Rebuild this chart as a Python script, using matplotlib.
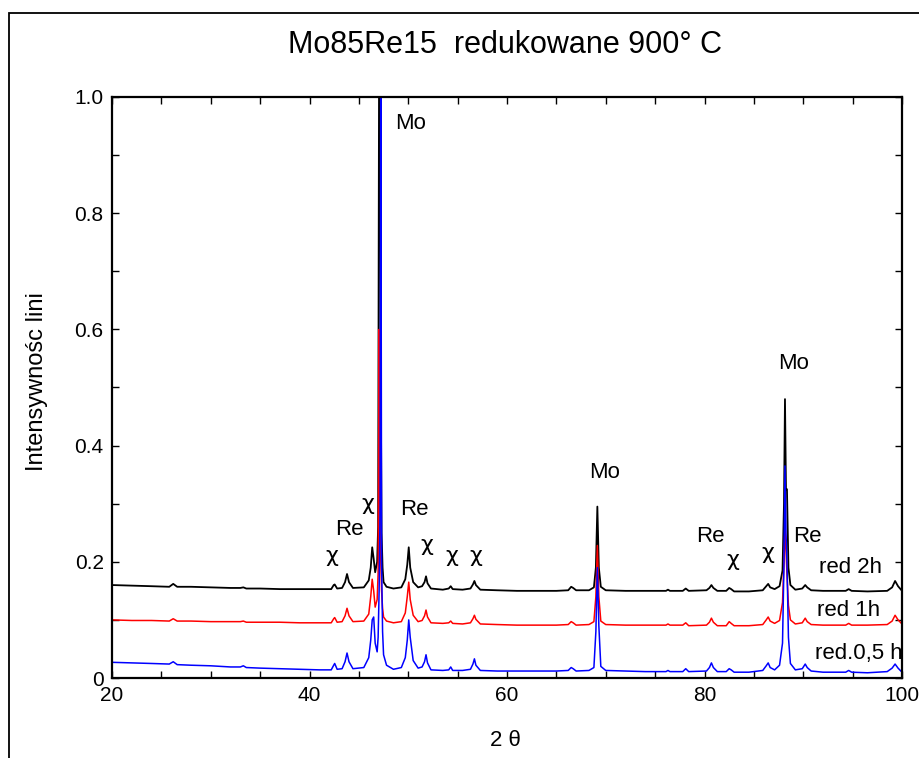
import matplotlib
matplotlib.use("Agg")
import matplotlib.pyplot as plt
from matplotlib.ticker import MultipleLocator, FuncFormatter
from matplotlib.patches import Rectangle

# ---------------- data ----------------
two_theta = [
    20, 22, 24, 25.8, 26.2, 26.6, 28, 30, 32, 33.0, 33.3, 33.6, 35, 37, 39, 41,
    42.2, 42.45, 42.55, 42.8,
    43.3, 43.6, 43.8, 44.0, 44.4,
    45.5, 46.0, 46.2, 46.35, 46.5, 46.65, 46.85, 46.95, 47.05, 47.1, 47.15, 47.22, 47.3, 47.4, 47.5, 47.8, 48.5, 49.3,
    49.7, 49.9, 50.05, 50.2, 50.5, 51.0,
    51.4, 51.65, 51.8, 51.95, 52.3,
    53.5, 54.1, 54.3, 54.5, 55.5,
    56.3, 56.55, 56.7, 56.85, 57.3,
    59, 61, 63, 65, 66.2, 66.5, 66.7, 67.0,
    68.3, 68.8, 69.0, 69.15, 69.3, 69.5, 70.0,
    72, 74, 76.1, 76.3, 76.5, 77.8, 78.1, 78.4,
    80.2, 80.5, 80.7, 80.9, 81.3,
    82.2, 82.5, 82.7, 83.0, 84.5,
    85.9, 86.25, 86.45, 86.65, 87.1,
    87.6, 87.9, 88.05, 88.15, 88.25, 88.35, 88.5, 88.7, 89.2,
    89.9, 90.2, 90.4, 90.8,
    92, 94.3, 94.6, 94.9, 96.5, 98.5, 99.0, 99.3, 99.6, 100,
]

red_2h = [
    .160, .159, .158, .157, .162, .157, .157, .156, .155, .155, .156, .154, .154, .153, .153, .153,
    .153, .160, .161, .154,
    .155, .165, .179, .165, .155,
    .156, .168, .190, .225, .205, .182, .200, .260, 1.10, 1.10, 1.10, .500, .250, .190, .165, .157, .154, .156,
    .170, .195, .225, .190, .165, .156,
    .158, .165, .175, .163, .154,
    .152, .154, .158, .153, .152,
    .154, .161, .167, .160, .152,
    .151, .150, .150, .150, .151, .157, .155, .151,
    .151, .156, .190, .295, .190, .157, .151,
    .150, .150, .150, .152, .150, .150, .154, .150,
    .151, .155, .160, .155, .150,
    .150, .155, .153, .149, .149,
    .151, .158, .162, .156, .153,
    .158, .185, .300, .480, .325, .325, .190, .160, .152,
    .154, .160, .156, .151,
    .150, .150, .153, .150, .149, .150, .156, .167, .158, .150,
]

red_1h = [
    .100, .099, .099, .098, .102, .098, .098, .097, .097, .097, .098, .096, .096, .096, .095, .095,
    .095, .102, .104, .096,
    .097, .107, .120, .107, .097,
    .098, .110, .140, .170, .150, .122, .135, .180, .600, .400, .260, .200, .150, .120, .105, .098, .095, .097,
    .112, .140, .165, .135, .108, .097,
    .099, .107, .117, .105, .095,
    .094, .095, .098, .094, .093,
    .095, .102, .108, .101, .093,
    .092, .091, .091, .091, .092, .097, .095, .091,
    .092, .097, .140, .228, .140, .098, .092,
    .091, .091, .091, .093, .091, .091, .095, .090,
    .091, .096, .103, .096, .090,
    .090, .097, .094, .090, .090,
    .092, .100, .105, .098, .094,
    .099, .130, .200, .260, .220, .180, .125, .100, .093,
    .095, .103, .097, .092,
    .091, .091, .094, .091, .091, .092, .098, .108, .100, .093,
]

red_05h = [
    .027, .026, .025, .024, .028, .023, .022, .021, .019, .019, .021, .018, .017, .016, .015, .014,
    .014, .022, .025, .015,
    .016, .028, .043, .028, .016,
    .018, .035, .065, .100, .105, .060, .045, .070, .150, .220, .300, 1.10, .200, .080, .040, .022, .015, .018,
    .035, .065, .100, .070, .030, .017,
    .019, .028, .040, .026, .014,
    .013, .014, .019, .013, .013,
    .015, .024, .033, .022, .013,
    .012, .012, .012, .012, .013, .018, .016, .012,
    .013, .018, .080, .190, .090, .020, .013,
    .012, .011, .011, .013, .011, .011, .016, .011,
    .012, .018, .026, .018, .011,
    .011, .016, .014, .010, .010,
    .013, .021, .026, .018, .014,
    .022, .060, .200, .365, .250, .200, .070, .025, .014,
    .016, .024, .018, .012,
    .010, .010, .013, .010, .009, .011, .017, .024, .017, .010,
]

series_labels = ["red 2h", "red 1h", "red.0,5 h"]
series_colors = ["black", "red", "blue"]
series_widths = [1.3, 1.1, 1.1]

# peak annotations: (text, 2theta, intensity)
peak_texts = ["Mo", "χ", "Re", "χ", "Re", "χ", "χ", "χ", "Mo", "Re", "χ", "χ", "Re", "Mo"]
peak_x = [50.2, 45.9, 44.0, 42.3, 50.6, 51.9, 54.4, 56.8, 69.9, 80.6, 82.9, 86.4, 90.4, 89.0]
peak_y = [0.955, 0.30, 0.256, 0.21, 0.29, 0.229, 0.21, 0.21, 0.353, 0.243, 0.203, 0.215, 0.243, 0.542]

series_label_x = [94.8, 94.6, 95.6]
series_label_y = [0.191, 0.117, 0.043]

title = "Mo85Re15  redukowane 900° C"
xlabel = "2 θ"
ylabel = "Intensywnośc lini"

# ---------------- figure ----------------
plt.rcParams['font.family'] = ['Liberation Sans', 'DejaVu Sans']

fig = plt.figure(figsize=(9.2, 7.58), dpi=100)
W, H = 920, 758
ax = fig.add_axes([112 / W, 1 - 678 / H, (902 - 112) / W, (678 - 97) / H])

# outer frame
fig.patches.append(Rectangle((9.5 / W, -0.2), 1.2, 1.2 - 12.5 / H,
                             transform=fig.transFigure, fill=False,
                             edgecolor='black', linewidth=1.3))

for ys, c, lw in zip([red_2h, red_1h, red_05h], series_colors, series_widths):
    ax.plot(two_theta, ys, color=c, linewidth=lw, solid_joinstyle='round')

ax.set_xlim(20, 100)
ax.set_ylim(0, 1.0)

ax.xaxis.set_major_locator(MultipleLocator(5))
ax.yaxis.set_major_locator(MultipleLocator(0.1))
ax.xaxis.set_major_formatter(FuncFormatter(lambda v, p: f"{int(round(v))}" if abs(v / 20 - round(v / 20)) < 1e-6 else ""))

def yfmt(v, p):
    k = int(round(v * 10))
    if k % 2:
        return ""
    return "0" if k == 0 else f"{v:.1f}"

ax.yaxis.set_major_formatter(FuncFormatter(yfmt))
ax.tick_params(direction='in', length=5, width=1.0, top=True, right=True,
               labelsize=15, pad=6)
for s in ax.spines.values():
    s.set_linewidth(1.6)

for t, x, y in zip(peak_texts, peak_x, peak_y):
    if t == "χ":
        ax.text(x, y, t, fontsize=16, ha='center', va='center',
                family=['DejaVu Sans'])
    else:
        ax.text(x, y, t, fontsize=16, ha='center', va='center')

for t, x, y in zip(series_labels, series_label_x, series_label_y):
    ax.text(x, y, t, fontsize=16, ha='center', va='center')

fig.text(505 / W, 1 - 45 / H, title, fontsize=22, ha='center', va='center')
fig.text(505 / W, 1 - 740 / H, xlabel, fontsize=16, ha='center', va='center')
fig.text(37 / W, 1 - 382 / H, ylabel, fontsize=17, ha='center', va='center', rotation=90)

fig.savefig("out.png", dpi=100)
